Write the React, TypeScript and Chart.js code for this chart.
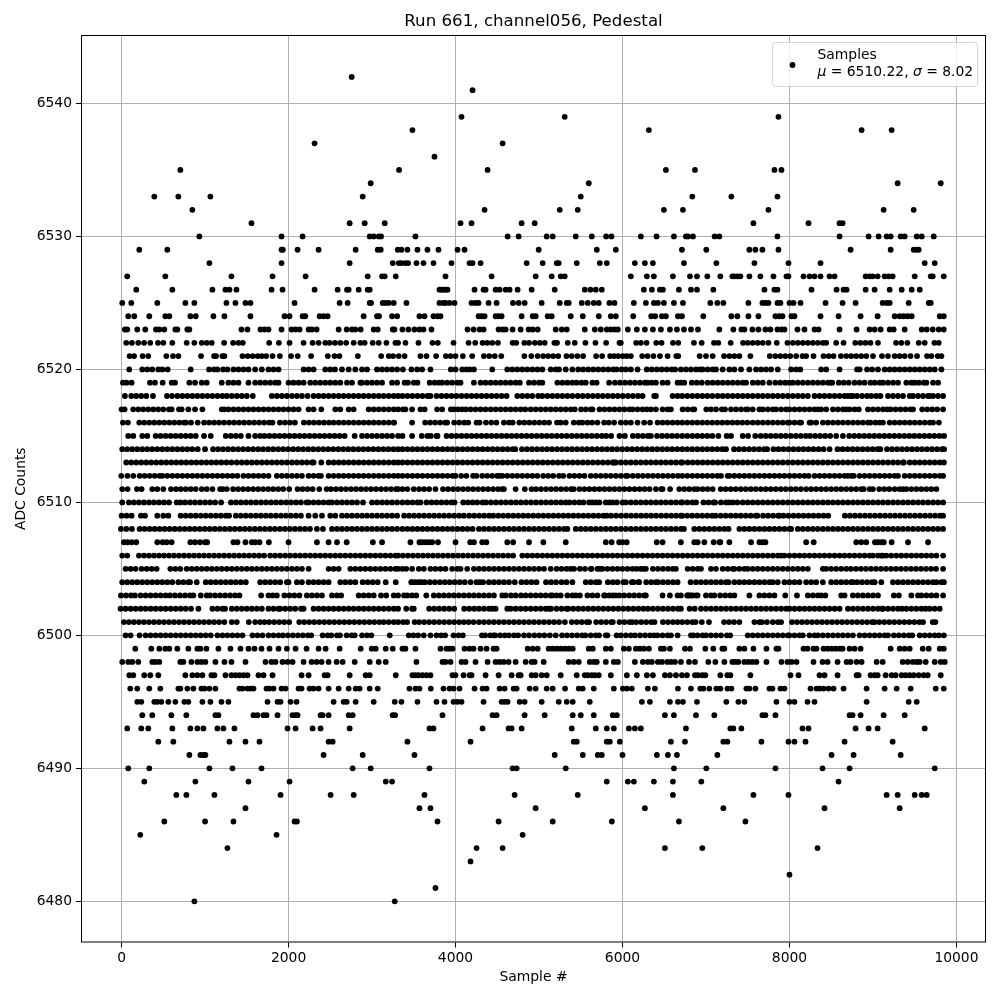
import React, { useEffect, useRef } from "react";
import { Chart, registerables } from "chart.js";

Chart.register(...registerables);

const titleText = "Run 661, channel056, Pedestal";
const xAxisLabel = "Sample #";
const yAxisLabel = "ADC Counts";
const xTickValues = [0, 2000, 4000, 6000, 8000, 10000];
const yTickValues = [6480, 6490, 6500, 6510, 6520, 6530, 6540];
const legendFirstLine = "Samples";
const mean = "6510.22";
const sigma = "8.02";

const s6480 = [872, 3272];
const s6481 = [3760];
const s6482 = [8000];
const s6483 = [4180];
const s6484 = [1268, 4252, 4564, 6508, 6956, 8336];
const s6485 = [224, 1856, 4804];
const s6486 = [512, 1000, 1340, 2072, 2100, 3784, 4516, 5164, 5872, 6676, 7472];
const s6487 = [1484, 3568, 3700, 4960, 6268, 7208, 8420, 9320];
const s6488 = [656, 776, 1112, 1904, 2504, 2780, 3628, 4708, 5464, 6604, 7568, 7988, 9164, 9296, 9500, 9584, 9644];
const s6489 = [272, 884, 1520, 2012, 3164, 3240, 5812, 6064, 6136, 6376, 6604, 6944, 8588];
const s6490 = [80, 332, 1052, 1328, 1676, 2768, 2984, 3688, 4684, 4732, 5320, 6616, 7004, 7832, 8396, 8720, 9740];
const s6491 = [812, 944, 980, 1004, 2420, 2888, 3508, 5188, 5524, 5704, 5752, 6000, 6412, 6544, 6652, 7136, 8504, 8768, 9332];
const s6492 = [440, 620, 1292, 1484, 1652, 2480, 2528, 3424, 4180, 5416, 5452, 5812, 5848, 5968, 6580, 6748, 7208, 7256, 7664, 7988, 8060, 8192, 8660, 9236];
const s6493 = [68, 236, 320, 608, 824, 908, 980, 1148, 1220, 1352, 1988, 2084, 2288, 2384, 2732, 3688, 3736, 4324, 4636, 4672, 4792, 5392, 5680, 5812, 5896, 6076, 6148, 6220, 6760, 7292, 7328, 7424, 8156, 8228, 8792, 8948, 9056, 9620];
const s6494 = [248, 368, 596, 776, 1124, 1160, 1580, 1628, 1700, 1736, 1868, 2048, 2084, 2108, 2384, 2408, 2480, 2720, 2768, 3248, 3276, 3844, 4444, 4492, 4828, 5068, 5404, 5500, 5656, 5884, 5932, 6508, 6616, 6880, 7100, 7676, 7712, 7832, 8720, 8756, 8852, 9128, 9380];
const s6495 = [188, 236, 392, 428, 476, 560, 644, 752, 800, 968, 1064, 1196, 1280, 1748, 1868, 1904, 2024, 2096, 2540, 2660, 2696, 2804, 3020, 3272, 3352, 3544, 3772, 3868, 3976, 4024, 4072, 4336, 4552, 4588, 4624, 4768, 4828, 5032, 5236, 5332, 5404, 5608, 6232, 6328, 6568, 6664, 6724, 6892, 7244, 7388, 7460, 7844, 8000, 8060, 8216, 8300, 8924, 9428, 9524];
const s6496 = [104, 188, 332, 464, 680, 704, 788, 860, 956, 992, 1052, 1124, 1412, 1448, 1508, 1544, 1580, 1736, 1772, 1820, 1916, 1964, 2120, 2156, 2252, 2300, 2360, 2480, 2600, 2720, 2804, 2852, 2972, 3068, 3448, 3520, 3568, 3704, 3856, 3928, 3976, 4048, 4228, 4324, 4372, 4528, 4588, 4696, 4732, 4888, 4960, 5092, 5164, 5312, 5476, 5524, 5656, 5896, 6004, 6052, 6112, 6304, 6388, 6664, 6820, 6932, 6968, 7040, 7124, 7172, 7256, 7304, 7484, 7520, 7592, 7760, 7796, 7892, 7940, 8252, 8324, 8360, 8408, 8468, 8528, 8648, 8924, 9140, 9284, 9452, 9752, 9848];
const s6497 = [92, 140, 272, 344, 440, 764, 848, 908, 968, 1076, 1112, 1244, 1316, 1364, 1412, 1460, 1508, 1640, 1700, 1808, 2156, 2240, 2432, 2468, 2732, 2924, 2972, 3284, 3484, 3520, 3556, 3604, 3652, 3700, 3964, 4000, 4096, 4168, 4192, 4360, 4516, 4672, 4756, 4780, 4912, 4960, 5032, 5092, 5260, 5452, 5548, 5584, 5632, 5668, 5716, 5860, 6052, 6172, 6292, 6364, 6508, 6568, 6640, 6712, 6772, 6868, 6904, 6956, 6992, 7172, 7256, 7292, 7532, 8012, 8108, 8360, 8420, 8576, 8804, 8828, 8972, 9020, 9056, 9152, 9224, 9272, 9344, 9392, 9440, 9488, 9548, 9608, 9656, 9812];
const s6498 = [8, 80, 128, 200, 368, 404, 452, 704, 740, 836, 908, 956, 1004, 1124, 1232, 1316, 1484, 1724, 1796, 1844, 1928, 1988, 2048, 2180, 2276, 2336, 2396, 2480, 2576, 2648, 2792, 2972, 3080, 3164, 3532, 3844, 3880, 3940, 4072, 4120, 4240, 4384, 4480, 4528, 4576, 4636, 4720, 4840, 4912, 4948, 5056, 5356, 5416, 5476, 5608, 5656, 5692, 5800, 5896, 5944, 6148, 6244, 6304, 6352, 6424, 6472, 6536, 6580, 6628, 6700, 6796, 6868, 7028, 7112, 7220, 7316, 7352, 7388, 7460, 7508, 7556, 7604, 7724, 7904, 7976, 8024, 8084, 8288, 8396, 8456, 8576, 8684, 8732, 8804, 8864, 9044, 9116, 9356, 9416, 9476, 9524, 9560, 9632, 9740, 9812, 9860];
const s6499 = [164, 356, 452, 524, 572, 668, 800, 908, 944, 1016, 1160, 1304, 1424, 1520, 1592, 1676, 1772, 1880, 1980, 2084, 2216, 2360, 2444, 2612, 2864, 2996, 3044, 3164, 3248, 3364, 3400, 3520, 3820, 3892, 3928, 3964, 4108, 4168, 4216, 4300, 4372, 4456, 4492, 4864, 4924, 4984, 5116, 5164, 5212, 5260, 5308, 5356, 5404, 5596, 5644, 5800, 5860, 6016, 6076, 6160, 6208, 6256, 6316, 6460, 6496, 6568, 6748, 6808, 6992, 7088, 7196, 7220, 7400, 7460, 7568, 7724, 7844, 7868, 8168, 8216, 8288, 8324, 8408, 8456, 8504, 8552, 8600, 8636, 8720, 8780, 8852, 9212, 9320, 9380, 9440, 9596, 9668, 9800, 9848];
const s6500 = [48, 108, 216, 288, 348, 408, 468, 528, 588, 648, 708, 768, 828, 888, 948, 1008, 1068, 1148, 1208, 1268, 1328, 1388, 1448, 1568, 1628, 1688, 1760, 1820, 1880, 1932, 1992, 2052, 2112, 2172, 2232, 2272, 2408, 2468, 2512, 2580, 2616, 2696, 2756, 2792, 2880, 2940, 2992, 3212, 3440, 3496, 3552, 3620, 3700, 3772, 3828, 3876, 3976, 4036, 4088, 4316, 4356, 4416, 4456, 4476, 4536, 4590, 4640, 4700, 4750, 4820, 4880, 4944, 5004, 5064, 5130, 5200, 5276, 5336, 5396, 5456, 5516, 5556, 5620, 5680, 5720, 5800, 5820, 5930, 5980, 6040, 6100, 6150, 6210, 6270, 6330, 6380, 6420, 6480, 6540, 6580, 6660, 6820, 6850, 6900, 6960, 7000, 7060, 7120, 7180, 7250, 7290, 7500, 7560, 7620, 7680, 7740, 7800, 7860, 7920, 7980, 8000, 8060, 8120, 8160, 8240, 8300, 8340, 8400, 8460, 8520, 8580, 8640, 8700, 8760, 8840, 8900, 8960, 9020, 9080, 9140, 9180, 9250, 9310, 9370, 9430, 9470, 9560, 9620, 9680, 9740, 9790, 9850];
const s6501 = [28, 88, 148, 208, 268, 328, 388, 448, 508, 568, 628, 688, 748, 808, 868, 928, 988, 1048, 1108, 1168, 1232, 1320, 1380, 1524, 1600, 1660, 1712, 1768, 1828, 1888, 1948, 2008, 2128, 2188, 2248, 2308, 2368, 2428, 2488, 2548, 2608, 2668, 2728, 2788, 2848, 2908, 2968, 3028, 3088, 3140, 3200, 3260, 3312, 3372, 3420, 3510, 3564, 3624, 3684, 3744, 3804, 3864, 3924, 3984, 4044, 4100, 4156, 4216, 4280, 4340, 4400, 4460, 4520, 4580, 4640, 4700, 4760, 4820, 4880, 4940, 5000, 5060, 5120, 5180, 5240, 5310, 5392, 5452, 5512, 5572, 5600, 5684, 5744, 5804, 5864, 5884, 5964, 6024, 6084, 6116, 6164, 6224, 6284, 6344, 6384, 6484, 6544, 6604, 6660, 6716, 6776, 6836, 6876, 6950, 7036, 7216, 7276, 7336, 7400, 7580, 7640, 7670, 7730, 7800, 7860, 7900, 8030, 8090, 8150, 8210, 8270, 8330, 8390, 8450, 8510, 8570, 8630, 8690, 8750, 8810, 8870, 8930, 8990, 9020, 9076, 9136, 9196, 9256, 9316, 9376, 9436, 9496, 9556, 9600, 9716, 9748];
const s6502 = [-12, 48, 108, 168, 228, 288, 348, 408, 468, 528, 588, 648, 708, 768, 832, 920, 1088, 1148, 1208, 1240, 1320, 1380, 1440, 1500, 1560, 1620, 1680, 1760, 1820, 1880, 1900, 1960, 2020, 2080, 2150, 2180, 2300, 2360, 2420, 2480, 2540, 2600, 2660, 2720, 2780, 2840, 2900, 2960, 3020, 3080, 3140, 3200, 3260, 3312, 3410, 3480, 3500, 3684, 3744, 3804, 3864, 3924, 3984, 4104, 4164, 4224, 4280, 4340, 4400, 4440, 4480, 4620, 4660, 4720, 4780, 4840, 4900, 4960, 5020, 5080, 5120, 5144, 5210, 5270, 5330, 5350, 5410, 5470, 5530, 5590, 5650, 5710, 5770, 5830, 5890, 5950, 6010, 6070, 6130, 6190, 6250, 6304, 6364, 6424, 6484, 6544, 6604, 6664, 6700, 6804, 6864, 6940, 7000, 7060, 7120, 7180, 7240, 7300, 7360, 7420, 7480, 7540, 7600, 7660, 7720, 7780, 7840, 7900, 7960, 8000, 8060, 8120, 8180, 8240, 8300, 8360, 8420, 8480, 8540, 8600, 8700, 8760, 8820, 8880, 8940, 9000, 9060, 9110, 9120, 9180, 9240, 9300, 9350, 9400, 9460, 9520, 9580, 9630, 9680, 9740, 9800];
const s6503 = [-8, 52, 112, 160, 228, 288, 348, 408, 468, 528, 580, 640, 700, 760, 820, 860, 948, 1020, 1060, 1120, 1180, 1240, 1300, 1360, 1412, 1672, 1760, 1810, 1860, 1950, 2010, 2070, 2130, 2220, 2280, 2340, 2400, 2520, 2580, 2630, 2840, 2900, 2960, 3020, 3108, 3170, 3260, 3312, 3384, 3424, 3480, 3530, 3650, 3740, 3800, 3860, 3920, 3980, 4040, 4100, 4160, 4220, 4280, 4340, 4400, 4460, 4560, 4600, 4664, 4720, 4784, 4840, 4900, 4960, 5020, 5080, 5140, 5160, 5210, 5260, 5340, 5400, 5440, 5490, 5580, 5640, 5700, 5790, 5780, 5840, 5884, 5920, 5964, 6020, 6080, 6140, 6200, 6260, 6280, 6480, 6568, 6660, 6700, 6780, 6800, 6820, 6880, 6776, 6840, 6900, 7000, 7060, 7100, 7170, 7230, 7290, 7340, 7520, 7640, 7700, 7760, 7820, 7950, 8090, 8220, 8280, 8340, 8380, 8430, 8620, 8660, 8760, 8820, 8880, 8940, 9000, 9060, 9250, 9310, 9460, 9540, 9580, 9640, 9700, 9760, 9840];
const s6504 = [8, 68, 128, 188, 248, 308, 368, 428, 488, 548, 608, 680, 740, 800, 820, 900, 1008, 1068, 1128, 1188, 1248, 1308, 1368, 1428, 1488, 1660, 1720, 1780, 1840, 1900, 1980, 2000, 2100, 2160, 2240, 2300, 2360, 2420, 2480, 2620, 2680, 2740, 2800, 2888, 2948, 3008, 3068, 3164, 3284, 3480, 3470, 3520, 3560, 3590, 3632, 3692, 3752, 3812, 3872, 3930, 3990, 4050, 4110, 4180, 4250, 4290, 4330, 4400, 4460, 4520, 4580, 4640, 4710, 4790, 4850, 4910, 4970, 5084, 5144, 5204, 5270, 5330, 5400, 5560, 5620, 5680, 5720, 5824, 5884, 5940, 6010, 6040, 6112, 6130, 6190, 6200, 6284, 6344, 6400, 6424, 6484, 6544, 6604, 6660, 6816, 6880, 6940, 7000, 7060, 7120, 7180, 7240, 7270, 7340, 7400, 7460, 7520, 7580, 7640, 7700, 7760, 7800, 7860, 7940, 8000, 8060, 8120, 8200, 8260, 8320, 8400, 8500, 8560, 8620, 8680, 8740, 8760, 8810, 8870, 8930, 8990, 9020, 9100, 9240, 9300, 9360, 9420, 9480, 9540, 9600, 9660, 9720, 9760, 9820, 9850];
const s6505 = [48, 108, 168, 240, 300, 360, 420, 584, 644, 704, 780, 840, 900, 960, 1020, 1080, 1140, 1200, 1260, 1320, 1380, 1440, 1500, 1560, 1620, 1680, 1740, 1800, 1860, 1920, 1980, 2040, 2100, 2160, 2240, 2480, 2540, 2600, 2740, 2800, 2860, 2920, 2980, 3040, 3100, 3160, 3220, 3280, 3312, 3364, 3410, 3480, 3560, 3620, 3700, 3760, 3820, 3880, 3960, 4020, 4060, 4140, 4220, 4280, 4340, 4400, 4460, 4520, 4580, 4640, 4700, 4760, 4820, 4880, 4940, 5000, 5060, 5140, 5210, 5270, 5330, 5380, 5420, 5490, 5550, 5620, 5630, 5700, 5730, 5760, 5820, 5880, 5940, 6000, 6060, 6120, 6170, 6220, 6250, 6280, 6364, 6424, 6484, 6544, 6600, 6640, 6780, 6840, 6900, 6940, 7060, 7120, 7200, 7260, 7320, 7340, 7400, 7460, 7500, 7560, 7620, 7680, 7740, 7800, 7860, 7920, 7980, 8040, 8100, 8160, 8220, 8400, 8440, 8500, 8560, 8620, 8680, 8736, 8796, 8856, 8916, 8976, 9036, 9096, 9156, 9216, 9276, 9336, 9396, 9456, 9516, 9576, 9636, 9696, 9756, 9840];
const s6506 = [8, 68, 208, 268, 328, 388, 448, 508, 568, 628, 688, 748, 808, 868, 928, 988, 1048, 1108, 1168, 1228, 1288, 1348, 1408, 1468, 1528, 1588, 1648, 1708, 1780, 1840, 1900, 1960, 2020, 2080, 2140, 2200, 2260, 2320, 2380, 2440, 2500, 2560, 2620, 2680, 2740, 2800, 2860, 2920, 2980, 3040, 3100, 3160, 3220, 3280, 3312, 3370, 3430, 3490, 3550, 3610, 3670, 3730, 3790, 3850, 3910, 3970, 4030, 4090, 4150, 4210, 4270, 4330, 4390, 4450, 4510, 4570, 4632, 4690, 4800, 4860, 4920, 4980, 5040, 5100, 5160, 5220, 5280, 5340, 5400, 5460, 5520, 5580, 5640, 5700, 5760, 5820, 5880, 5940, 6000, 6060, 6120, 6180, 6240, 6300, 6360, 6420, 6480, 6540, 6600, 6660, 6720, 6780, 6840, 6900, 6960, 7020, 7080, 7140, 7200, 7260, 7320, 7380, 7440, 7500, 7560, 7620, 7680, 7740, 7800, 7860, 7900, 7940, 8000, 8060, 8120, 8180, 8240, 8300, 8360, 8420, 8480, 8540, 8600, 8660, 8720, 8780, 8840, 8900, 8960, 9000, 9060, 9100, 9120, 9160, 9220, 9280, 9340, 9400, 9460, 9520, 9580, 9640, 9700, 9760, 9840];
const s6507 = [28, 70, 120, 176, 428, 492, 540, 600, 824, 880, 940, 1000, 1024, 1340, 1388, 1484, 1560, 1600, 1652, 1764, 2000, 2340, 2480, 2580, 2696, 3010, 3120, 3460, 3568, 3600, 3640, 3680, 3720, 3790, 4000, 4176, 4220, 4320, 4370, 4620, 4690, 4880, 5052, 5320, 5800, 5870, 5960, 6000, 6050, 6410, 6480, 6700, 6860, 6900, 6980, 7092, 7160, 7172, 7280, 7540, 7640, 7680, 7712, 8200, 8290, 8800, 8860, 8920, 9024, 9060, 9100, 9130, 9224, 9420, 9660];
const s6508 = [-8, 56, 124, 216, 276, 336, 396, 456, 516, 576, 636, 696, 756, 816, 876, 936, 996, 1056, 1116, 1176, 1236, 1296, 1356, 1416, 1476, 1536, 1596, 1656, 1716, 1776, 1836, 1896, 1956, 2016, 2076, 2136, 2196, 2256, 2340, 2412, 2520, 2580, 2640, 2700, 2760, 2820, 2880, 2940, 3000, 3060, 3120, 3180, 3240, 3300, 3364, 3424, 3484, 3544, 3604, 3664, 3724, 3784, 3844, 3904, 3964, 4024, 4084, 4144, 4204, 4280, 4340, 4400, 4460, 4520, 4580, 4640, 4700, 4760, 4820, 4880, 4940, 5000, 5060, 5120, 5180, 5240, 5300, 5340, 5440, 5500, 5560, 5620, 5680, 5740, 5800, 5860, 5920, 5980, 6040, 6100, 6160, 6220, 6280, 6340, 6400, 6460, 6520, 6580, 6640, 6700, 6736, 6860, 6920, 6980, 7040, 7100, 7160, 7220, 7270, 7400, 7460, 7520, 7580, 7640, 7700, 7760, 7820, 7880, 7940, 8000, 8020, 8100, 8160, 8220, 8280, 8340, 8400, 8460, 8520, 8580, 8640, 8700, 8760, 8820, 8880, 8940, 9000, 9060, 9120, 9180, 9240, 9300, 9360, 9420, 9480, 9540, 9600, 9660, 9720, 9780, 9840];
const s6509 = [0, 60, 120, 232, 280, 428, 500, 560, 708, 768, 828, 888, 948, 1008, 1068, 1128, 1188, 1248, 1288, 1368, 1428, 1488, 1548, 1608, 1668, 1728, 1788, 1848, 1908, 1968, 2028, 2088, 2148, 2240, 2320, 2400, 2500, 2560, 2640, 2700, 2760, 2820, 2880, 2940, 3000, 3060, 3120, 3180, 3240, 3300, 3384, 3444, 3504, 3564, 3624, 3684, 3744, 3804, 3864, 3924, 3984, 4044, 4100, 4164, 4224, 4284, 4344, 4404, 4452, 4512, 4572, 4632, 4692, 4752, 4812, 4872, 4932, 4992, 5052, 5112, 5172, 5232, 5292, 5352, 5412, 5472, 5532, 5592, 5652, 5712, 5772, 5812, 5864, 5924, 5984, 6044, 6104, 6164, 6224, 6284, 6344, 6404, 6464, 6524, 6584, 6644, 6700, 6716, 6776, 6836, 6896, 6956, 7016, 7076, 7116, 7176, 7236, 7296, 7356, 7416, 7476, 7536, 7596, 7616, 7684, 7744, 7804, 7864, 7880, 7928, 7988, 8048, 8108, 8168, 8228, 8288, 8348, 8408, 8464, 8664, 8724, 8784, 8844, 8904, 8964, 9024, 9084, 9144, 9204, 9264, 9324, 9384, 9444, 9504, 9564, 9624, 9684, 9744, 9804, 9840];
const s6510 = [8, 88, 148, 208, 268, 328, 388, 448, 508, 568, 660, 704, 760, 820, 880, 940, 1000, 1060, 1120, 1192, 1310, 1370, 1430, 1490, 1550, 1610, 1670, 1730, 1790, 1850, 1910, 1970, 2030, 2090, 2148, 2216, 2240, 2300, 2360, 2420, 2480, 2520, 2580, 2640, 2700, 2760, 2820, 2892, 3000, 3060, 3120, 3180, 3240, 3300, 3364, 3424, 3484, 3544, 3580, 3652, 3712, 3772, 3832, 3892, 3952, 3988, 4092, 4148, 4204, 4260, 4324, 4364, 4424, 4484, 4544, 4604, 4664, 4724, 4784, 4844, 4904, 4964, 5024, 5084, 5144, 5204, 5264, 5320, 5364, 5424, 5484, 5532, 5600, 5640, 5680, 5724, 5800, 5844, 5880, 5930, 6000, 6040, 6100, 6160, 6220, 6280, 6340, 6400, 6460, 6520, 6580, 6640, 6700, 6716, 6776, 6836, 6880, 6970, 7030, 7090, 7110, 7180, 7240, 7276, 7320, 7376, 7440, 7500, 7560, 7620, 7680, 7740, 7800, 7860, 7920, 7980, 8040, 8100, 8160, 8220, 8280, 8340, 8400, 8460, 8520, 8580, 8640, 8700, 8760, 8820, 8880, 8940, 9000, 9060, 9120, 9180, 9240, 9300, 9360, 9420, 9480, 9540, 9600, 9660, 9720, 9780, 9840];
const s6511 = [8, 72, 184, 240, 368, 428, 500, 592, 652, 708, 768, 828, 888, 960, 1020, 1088, 1180, 1210, 1260, 1336, 1396, 1456, 1516, 1576, 1636, 1696, 1756, 1816, 1876, 1936, 2008, 2108, 2168, 2228, 2288, 2368, 2456, 2508, 2568, 2628, 2688, 2748, 2808, 2868, 2928, 2988, 3048, 3108, 3168, 3228, 3288, 3312, 3364, 3424, 3500, 3564, 3624, 3684, 3760, 3850, 3910, 3970, 4030, 4090, 4150, 4210, 4270, 4330, 4390, 4450, 4510, 4560, 4580, 4720, 4830, 4910, 4964, 5024, 5084, 5144, 5204, 5264, 5324, 5384, 5416, 5484, 5544, 5604, 5664, 5724, 5784, 5844, 5904, 5964, 6024, 6084, 6144, 6204, 6264, 6324, 6400, 6464, 6480, 6570, 6680, 6740, 6800, 6860, 6900, 6960, 7020, 7080, 7176, 7236, 7296, 7356, 7416, 7476, 7536, 7596, 7656, 7716, 7776, 7836, 7896, 7956, 8016, 8076, 8136, 8200, 8260, 8320, 8380, 8440, 8500, 8560, 8620, 8680, 8740, 8800, 8860, 8890, 8960, 9000, 9076, 9136, 9196, 9260, 9320, 9360, 9400, 9460, 9520, 9580, 9640, 9700, 9760];
const s6512 = [-4, 70, 140, 216, 276, 336, 396, 456, 488, 548, 608, 668, 728, 788, 848, 908, 968, 1028, 1088, 1148, 1208, 1268, 1328, 1388, 1460, 1520, 1580, 1640, 1700, 1760, 1860, 1920, 1980, 2040, 2100, 2160, 2240, 2300, 2360, 2388, 2480, 2540, 2600, 2660, 2720, 2780, 2840, 2900, 2960, 3020, 3080, 3140, 3200, 3260, 3312, 3364, 3424, 3484, 3544, 3604, 3664, 3724, 3784, 3844, 3904, 3964, 4000, 4068, 4130, 4210, 4252, 4320, 4380, 4440, 4500, 4524, 4560, 4620, 4680, 4740, 4800, 4860, 4920, 4980, 5050, 5110, 5170, 5240, 5290, 5364, 5424, 5484, 5544, 5620, 5680, 5740, 5800, 5860, 5920, 5980, 6040, 6060, 6124, 6184, 6244, 6304, 6364, 6424, 6484, 6544, 6604, 6664, 6716, 6776, 6836, 6896, 6956, 7016, 7076, 7136, 7180, 7260, 7280, 7340, 7400, 7460, 7520, 7580, 7640, 7700, 7760, 7820, 7880, 7940, 8000, 8060, 8120, 8180, 8230, 8300, 8360, 8420, 8480, 8540, 8600, 8660, 8700, 8740, 8770, 8840, 8900, 8960, 9020, 9080, 9140, 9200, 9260, 9300, 9380, 9440, 9500, 9560, 9620, 9680, 9740, 9800, 9840];
const s6513 = [56, 116, 176, 236, 296, 356, 416, 476, 536, 596, 656, 716, 776, 836, 896, 956, 1016, 1076, 1136, 1196, 1256, 1316, 1380, 1440, 1500, 1560, 1620, 1680, 1740, 1800, 1860, 1920, 1980, 2040, 2100, 2160, 2220, 2280, 2300, 2392, 2480, 2540, 2600, 2660, 2720, 2780, 2840, 2900, 2960, 3020, 3080, 3140, 3200, 3260, 3312, 3364, 3424, 3484, 3544, 3604, 3664, 3724, 3784, 3844, 3904, 3964, 4024, 4084, 4144, 4204, 4264, 4324, 4384, 4444, 4504, 4564, 4624, 4684, 4744, 4804, 4864, 4924, 4984, 5044, 5104, 5164, 5224, 5284, 5344, 5404, 5464, 5524, 5584, 5644, 5704, 5764, 5824, 5884, 5900, 5920, 5980, 6040, 6100, 6160, 6220, 6280, 6340, 6400, 6460, 6520, 6580, 6640, 6700, 6716, 6780, 6840, 6900, 6960, 7020, 7080, 7140, 7200, 7260, 7320, 7380, 7440, 7500, 7560, 7620, 7680, 7740, 7800, 7860, 7920, 7980, 8040, 8100, 8160, 8220, 8280, 8340, 8400, 8460, 8520, 8580, 8640, 8700, 8760, 8820, 8880, 8940, 9000, 9060, 9120, 9180, 9240, 9300, 9360, 9370, 9440, 9500, 9560, 9620, 9680, 9740, 9800, 9850];
const s6514 = [8, 68, 128, 188, 248, 308, 368, 428, 488, 548, 608, 668, 728, 788, 848, 912, 1000, 1096, 1156, 1216, 1276, 1336, 1396, 1456, 1516, 1576, 1636, 1696, 1756, 1816, 1876, 1936, 1996, 2056, 2116, 2176, 2236, 2296, 2356, 2416, 2476, 2536, 2596, 2656, 2716, 2776, 2836, 2896, 2956, 3016, 3076, 3136, 3196, 3256, 3312, 3364, 3424, 3484, 3544, 3604, 3664, 3724, 3784, 3844, 3904, 3964, 4024, 4084, 4144, 4204, 4264, 4324, 4384, 4444, 4504, 4564, 4624, 4684, 4716, 4796, 4856, 4916, 4976, 5036, 5096, 5156, 5216, 5276, 5336, 5396, 5456, 5516, 5576, 5636, 5696, 5756, 5816, 5876, 5936, 5996, 6056, 6116, 6176, 6236, 6296, 6356, 6416, 6476, 6536, 6596, 6656, 6716, 6776, 6836, 6896, 6956, 7016, 7076, 7136, 7196, 7240, 7336, 7396, 7456, 7516, 7576, 7636, 7696, 7732, 7808, 7868, 7928, 7988, 8048, 8108, 8168, 8228, 8288, 8348, 8408, 8480, 8576, 8636, 8696, 8756, 8816, 8876, 8936, 8996, 9056, 9088, 9168, 9228, 9288, 9348, 9408, 9468, 9528, 9588, 9648, 9708, 9768, 9828, 9852];
const s6515 = [80, 140, 248, 308, 408, 468, 528, 588, 648, 708, 768, 828, 888, 988, 1068, 1248, 1308, 1368, 1428, 1520, 1600, 1660, 1712, 1772, 1832, 1892, 1952, 2012, 2072, 2132, 2192, 2252, 2312, 2372, 2432, 2492, 2552, 2612, 2672, 2792, 2880, 2940, 3000, 3060, 3120, 3180, 3240, 3312, 3364, 3480, 3596, 3664, 3704, 3772, 3784, 3892, 3952, 4012, 4072, 4132, 4192, 4252, 4312, 4372, 4432, 4492, 4552, 4612, 4672, 4732, 4792, 4852, 4912, 4972, 5032, 5092, 5152, 5212, 5272, 5332, 5392, 5452, 5512, 5572, 5632, 5692, 5752, 5804, 5864, 5964, 6028, 6124, 6184, 6244, 6304, 6340, 6414, 6474, 6534, 6594, 6654, 6716, 6776, 6836, 6896, 6956, 7016, 7076, 7148, 7248, 7300, 7440, 7504, 7590, 7656, 7716, 7776, 7836, 7896, 7956, 8016, 8076, 8136, 8196, 8248, 8308, 8368, 8428, 8488, 8560, 8640, 8716, 8776, 8836, 8896, 8956, 9016, 9076, 9136, 9196, 9256, 9316, 9376, 9436, 9496, 9556, 9616, 9676, 9736, 9796, 9852];
const s6516 = [16, 76, 212, 272, 332, 392, 452, 512, 572, 632, 692, 748, 772, 832, 912, 988, 1048, 1108, 1168, 1228, 1288, 1348, 1408, 1468, 1528, 1588, 1648, 1708, 1768, 1808, 1896, 1956, 2016, 2076, 2184, 2244, 2304, 2364, 2424, 2484, 2540, 2600, 2660, 2720, 2780, 2840, 2900, 2960, 3020, 3080, 3140, 3200, 3260, 3264, 3480, 3636, 3696, 3756, 3816, 3876, 3900, 3984, 4044, 4104, 4152, 4252, 4288, 4364, 4428, 4490, 4580, 4640, 4684, 4764, 4824, 4884, 4944, 5004, 5064, 5120, 5216, 5260, 5320, 5416, 5476, 5520, 5580, 5636, 5700, 5780, 5836, 5900, 5980, 6040, 6100, 6180, 6260, 6330, 6420, 6480, 6540, 6600, 6660, 6716, 6776, 6836, 6896, 6956, 7016, 7076, 7136, 7196, 7256, 7316, 7376, 7436, 7496, 7560, 7620, 7680, 7740, 7800, 7860, 7920, 7980, 8000, 8060, 8120, 8140, 8240, 8260, 8320, 8400, 8460, 8520, 8580, 8640, 8700, 8760, 8820, 8880, 8940, 8970, 9030, 9080, 9120, 9200, 9260, 9320, 9380, 9440, 9500, 9560, 9620, 9680, 9720, 9790];
const s6517 = [0, 36, 140, 200, 260, 320, 380, 440, 500, 568, 600, 688, 720, 800, 880, 968, 1200, 1232, 1280, 1340, 1400, 1460, 1520, 1580, 1640, 1700, 1760, 1820, 1880, 1940, 2000, 2060, 2120, 2240, 2300, 2392, 2560, 2620, 2720, 2780, 2960, 3020, 3080, 3140, 3200, 3260, 3312, 3370, 3400, 3480, 3580, 3630, 3780, 3840, 3944, 3980, 4030, 4080, 4124, 4180, 4240, 4300, 4360, 4420, 4480, 4540, 4600, 4660, 4720, 4780, 4836, 4900, 4960, 5020, 5080, 5140, 5200, 5260, 5320, 5380, 5428, 5504, 5560, 5620, 5640, 5724, 5784, 5844, 5904, 5964, 6024, 6084, 6120, 6180, 6240, 6290, 6340, 6400, 6480, 6540, 6580, 6720, 6780, 6840, 6860, 7004, 7060, 7120, 7190, 7228, 7300, 7360, 7420, 7480, 7500, 7560, 7640, 7680, 7740, 7800, 7840, 7900, 7960, 8000, 8060, 8120, 8180, 8240, 8300, 8340, 8380, 8440, 8520, 8580, 8640, 8680, 8720, 8780, 8830, 8940, 9000, 9060, 9120, 9170, 9210, 9270, 9330, 9390, 9450, 9480, 9590, 9650, 9710, 9770, 9840];
const s6518 = [40, 116, 176, 236, 296, 376, 544, 604, 668, 728, 788, 848, 908, 968, 1028, 1088, 1148, 1208, 1260, 1320, 1380, 1440, 1500, 1572, 1800, 1860, 1920, 1980, 2040, 2100, 2160, 2228, 2300, 2360, 2420, 2480, 2540, 2600, 2660, 2720, 2780, 2840, 2900, 2960, 3020, 3080, 3140, 3200, 3260, 3312, 3364, 3424, 3484, 3544, 3604, 3664, 3700, 3772, 3832, 3892, 3952, 4012, 4072, 4132, 4192, 4252, 4312, 4372, 4432, 4492, 4552, 4612, 4740, 4800, 4860, 4920, 4990, 5040, 5100, 5160, 5220, 5280, 5340, 5400, 5464, 5524, 5584, 5644, 5704, 5764, 5824, 5884, 5944, 6004, 6064, 6124, 6184, 6240, 6380, 6400, 6600, 6660, 6716, 6776, 6836, 6896, 6956, 7016, 7076, 7140, 7200, 7260, 7320, 7380, 7440, 7500, 7560, 7620, 7680, 7740, 7800, 7860, 7920, 7980, 8040, 8100, 8160, 8220, 8300, 8360, 8420, 8480, 8540, 8600, 8660, 8700, 8740, 8760, 8810, 8870, 8930, 8980, 9040, 9090, 9180, 9240, 9300, 9360, 9440, 9480, 9540, 9600, 9660, 9680, 9720, 9780, 9840];
const s6519 = [16, 60, 120, 340, 400, 492, 600, 640, 812, 880, 960, 1020, 1200, 1280, 1340, 1400, 1520, 1600, 1660, 1720, 1780, 1840, 1880, 2000, 2060, 2120, 2180, 2260, 2320, 2380, 2440, 2500, 2560, 2620, 2700, 2760, 2860, 2880, 2940, 3000, 3060, 3120, 3240, 3300, 3390, 3430, 3500, 3544, 3690, 3750, 3800, 3840, 3900, 3960, 4020, 4060, 4220, 4300, 4360, 4420, 4480, 4540, 4600, 4660, 4720, 4770, 4880, 4940, 5000, 5040, 5220, 5280, 5340, 5400, 5450, 5510, 5560, 5640, 5690, 5840, 5910, 5970, 6030, 6090, 6150, 6210, 6270, 6300, 6350, 6400, 6480, 6540, 6660, 6700, 6740, 6830, 6890, 6950, 7020, 7080, 7140, 7200, 7260, 7320, 7380, 7440, 7480, 7560, 7620, 7680, 7760, 7830, 7890, 7950, 8000, 8040, 8100, 8160, 8220, 8280, 8340, 8400, 8460, 8490, 8512, 8590, 8650, 8710, 8780, 8840, 8900, 8970, 9020, 9080, 9120, 9180, 9240, 9300, 9400, 9460, 9500, 9550, 9610, 9640, 9720, 9780];
const s6520 = [92, 248, 308, 368, 440, 488, 552, 828, 1048, 1108, 1148, 1216, 1268, 1340, 1400, 1460, 1520, 1600, 1680, 1760, 1820, 1880, 2180, 2240, 2300, 2440, 2500, 2556, 2640, 2720, 2800, 2880, 2940, 3060, 3120, 3180, 3240, 3300, 3370, 3472, 3540, 3600, 3700, 3944, 4000, 4080, 4130, 4172, 4220, 4440, 4620, 4680, 4740, 4800, 4860, 4920, 4980, 5040, 5140, 5200, 5240, 5320, 5400, 5470, 5530, 5590, 5650, 5710, 5770, 5830, 5890, 5930, 5990, 6040, 6100, 6180, 6290, 6350, 6410, 6470, 6530, 6590, 6630, 6700, 6760, 6820, 6880, 6930, 6960, 7020, 7080, 7120, 7200, 7280, 7340, 7420, 7520, 7600, 7660, 7720, 7780, 7860, 8020, 8080, 8130, 8380, 8440, 8600, 8810, 8840, 8930, 8990, 9060, 9140, 9200, 9260, 9320, 9380, 9440, 9500, 9560, 9620, 9680, 9740, 9820];
const s6521 = [96, 150, 252, 320, 536, 616, 680, 952, 1108, 1132, 1208, 1232, 1448, 1510, 1570, 1630, 1680, 1732, 1808, 1896, 2030, 2110, 2270, 2470, 2550, 2610, 2830, 3110, 3200, 3252, 3320, 3390, 3580, 3652, 3768, 3884, 3940, 4000, 4088, 4200, 4340, 4404, 4470, 4548, 4824, 4908, 4984, 5050, 5110, 5170, 5230, 5328, 5392, 5460, 5528, 5684, 5756, 5852, 5900, 5948, 6004, 6050, 6100, 6236, 6300, 6370, 6448, 6540, 6644, 6668, 6924, 7000, 7080, 7216, 7280, 7340, 7400, 7532, 7764, 7830, 7890, 7950, 8010, 8080, 8156, 8200, 8288, 8408, 8470, 8528, 8616, 8680, 8740, 8800, 8860, 8920, 9000, 9108, 9180, 9260, 9320, 9380, 9450, 9528, 9648, 9700, 9776, 9820];
const s6522 = [56, 124, 200, 270, 344, 436, 500, 608, 780, 872, 960, 1020, 1080, 1228, 1336, 1400, 1452, 1768, 1884, 2012, 2180, 2288, 2360, 2440, 2492, 2556, 2620, 2690, 2780, 2860, 2912, 3008, 3080, 3172, 3280, 3312, 3400, 3556, 3724, 3788, 3976, 4156, 4236, 4324, 4380, 4440, 4508, 4684, 4728, 4824, 4880, 4950, 5010, 5068, 5184, 5216, 5344, 5428, 5556, 5676, 5804, 5964, 5980, 6164, 6220, 6288, 6404, 6468, 6604, 6668, 6856, 6948, 7096, 7148, 7296, 7444, 7500, 7560, 7620, 7680, 7748, 7848, 7976, 8040, 8100, 8160, 8220, 8280, 8340, 8400, 8440, 8560, 8648, 8788, 8850, 8910, 8970, 9060, 9276, 9340, 9412, 9548, 9620, 9736, 9788];
const s6523 = [40, 68, 188, 284, 412, 452, 512, 644, 668, 788, 812, 1436, 1508, 1664, 1712, 1760, 1916, 2036, 2084, 2132, 2240, 2280, 2336, 2600, 2696, 2760, 2800, 2864, 3020, 3068, 3248, 3268, 3364, 3436, 3508, 3568, 3616, 3712, 4144, 4216, 4288, 4336, 4516, 4564, 4600, 4684, 4780, 4876, 4924, 4984, 5200, 5272, 5332, 5548, 5668, 5740, 5812, 5860, 5904, 5944, 6064, 6172, 6268, 6364, 6460, 6568, 6652, 6736, 6820, 6904, 7160, 7328, 7424, 7460, 7556, 7628, 7712, 7772, 7856, 7904, 7940, 8096, 8180, 8300, 8348, 8600, 8804, 8960, 9020, 9092, 9200, 9248, 9380, 9584, 9644, 9716, 9788, 9848];
const s6524 = [80, 152, 332, 524, 572, 824, 888, 1100, 1232, 1544, 1952, 2012, 2168, 2200, 2372, 2420, 2468, 2900, 3060, 3084, 3240, 3300, 3568, 3628, 3736, 3784, 3820, 4276, 4312, 4348, 4480, 4516, 4552, 4792, 4924, 4960, 5104, 5152, 5380, 5524, 5716, 5860, 5920, 6128, 6344, 6392, 6472, 6520, 6664, 6712, 6968, 7304, 7376, 7508, 7628, 7832, 7880, 7916, 8024, 8060, 8372, 8588, 8852, 9056, 9260, 9320, 9368, 9416, 9464, 9800, 9848];
const s6525 = [8, 116, 428, 764, 872, 1256, 1364, 1484, 1544, 2072, 2612, 2708, 2972, 2988, 3128, 3160, 3200, 3260, 3412, 3808, 3856, 3880, 3928, 3988, 4192, 4240, 4276, 4396, 4492, 4688, 4756, 4828, 5032, 5248, 5332, 5356, 5512, 5584, 5656, 5716, 5844, 5904, 6136, 6280, 6376, 6424, 6496, 6616, 6724, 7052, 7136, 7208, 7508, 7676, 7712, 7748, 7856, 7892, 8000, 8048, 8132, 8432, 8636, 8792, 9116, 9164, 9200, 9428, 9668, 9692];
const s6526 = [176, 608, 1088, 1244, 1292, 1376, 1796, 1928, 2312, 2588, 2700, 2720, 2840, 2948, 2972, 3808, 3832, 3856, 3880, 3904, 4228, 4336, 4360, 4480, 4528, 4600, 4648, 4744, 4912, 5188, 5548, 5616, 5680, 5752, 6256, 6352, 6448, 6484, 6676, 6820, 6892, 7088, 7700, 7820, 7856, 8264, 8564, 8648, 8684, 8912, 9020, 9200, 9344, 9464, 9560];
const s6527 = [68, 524, 1316, 1808, 2204, 2948, 3120, 3152, 3284, 3880, 4432, 4960, 5152, 5260, 5308, 6100, 6292, 6376, 6604, 6808, 6892, 7016, 7172, 7316, 7340, 7376, 7412, 7520, 7652, 7808, 7964, 7988, 8168, 8240, 8300, 8372, 8480, 8540, 8912, 8960, 8996, 9056, 9140, 9188, 9236, 9500, 9692, 9716, 9848];
const s6528 = [1052, 1916, 2732, 3248, 3320, 3352, 3400, 3432, 3532, 3616, 3736, 3952, 4168, 4204, 4300, 4852, 5044, 5212, 5236, 5452, 5728, 5812, 6148, 6268, 6364, 6736, 7124, 7580, 7988, 8372, 9620, 9740];
const s6529 = [212, 548, 1916, 1932, 2108, 2360, 2804, 3068, 3104, 3308, 3352, 3424, 3544, 3664, 3796, 4024, 4108, 4996, 5692, 5920, 6712, 7004, 7520, 7592, 7676, 7868, 8732, 9212, 9488, 9524, 9548];
const s6530 = [932, 1916, 2168, 2972, 3020, 3080, 3108, 3520, 4624, 4756, 5092, 5164, 5440, 5632, 5804, 5868, 6220, 6408, 6616, 6760, 6784, 6844, 7104, 7160, 7856, 8600, 8948, 9068, 9164, 9212, 9332, 9380, 9524, 9584, 9728];
const s6531 = [1556, 2732, 2912, 3152, 4060, 4192, 4792, 4948, 7568, 8228, 8600, 8636];
const s6532 = [848, 4348, 5248, 5464, 6496, 6724, 7748, 9128, 9488];
const s6533 = [392, 680, 1064, 2888, 5500, 6836, 7304, 7856];
const s6534 = [2984, 5596, 9296, 9812];
const s6535 = [704, 3324, 4384, 6520, 6868, 7820, 7904];
const s6536 = [3748];
const s6537 = [2312, 4564];
const s6538 = [3484, 6316, 8864, 9224];
const s6539 = [4072, 5308, 7868];
const s6541 = [4204];
const s6542 = [2756];

const levelRows: [number, number[]][] = [
  [6480, s6480], [6481, s6481], [6482, s6482], [6483, s6483], [6484, s6484], [6485, s6485], [6486, s6486],
  [6487, s6487], [6488, s6488], [6489, s6489], [6490, s6490], [6491, s6491], [6492, s6492], [6493, s6493],
  [6494, s6494], [6495, s6495], [6496, s6496], [6497, s6497], [6498, s6498], [6499, s6499], [6500, s6500],
  [6501, s6501], [6502, s6502], [6503, s6503], [6504, s6504], [6505, s6505], [6506, s6506], [6507, s6507],
  [6508, s6508], [6509, s6509], [6510, s6510], [6511, s6511], [6512, s6512], [6513, s6513], [6514, s6514],
  [6515, s6515], [6516, s6516], [6517, s6517], [6518, s6518], [6519, s6519], [6520, s6520], [6521, s6521],
  [6522, s6522], [6523, s6523], [6524, s6524], [6525, s6525], [6526, s6526], [6527, s6527], [6528, s6528],
  [6529, s6529], [6530, s6530], [6531, s6531], [6532, s6532], [6533, s6533], [6534, s6534], [6535, s6535],
  [6536, s6536], [6537, s6537], [6538, s6538], [6539, s6539], [6541, s6541], [6542, s6542],
];

const FONT = '"DejaVu Sans", sans-serif';

const frameAndLegend = {
  id: "frameAndLegend",
  afterDatasetsDraw(chart: any) {
    const { ctx, chartArea: a } = chart;
    ctx.save();
    ctx.strokeStyle = "#000";
    ctx.lineWidth = 1;
    ctx.strokeRect(a.left + 0.5, a.top + 0.5, a.right - a.left - 1, a.bottom - a.top - 1);

    const bx = 772.5, by = 42.5, bw = 205, bh = 44;
    ctx.beginPath();
    ctx.roundRect(bx, by, bw, bh, 3);
    ctx.fillStyle = "rgba(255,255,255,0.8)";
    ctx.fill();
    ctx.strokeStyle = "rgba(204,204,204,0.8)";
    ctx.stroke();

    ctx.fillStyle = "#000";
    ctx.beginPath();
    ctx.arc(792.5, 65, 2.9, 0, Math.PI * 2);
    ctx.fill();

    ctx.textBaseline = "alphabetic";
    ctx.textAlign = "left";
    ctx.font = `13.89px ${FONT}`;
    ctx.fillText(legendFirstLine, 817.5, 59);
    const y = 76;
    let x = 817.5;
    const part = (t: string, italic: boolean) => {
      ctx.font = `${italic ? "italic " : ""}13.89px ${FONT}`;
      ctx.fillText(t, x, y);
      x += ctx.measureText(t).width;
    };
    part("μ", true);
    part(` = ${mean}, `, false);
    part("σ", true);
    part(` = ${sigma}`, false);
    ctx.restore();
  },
};

export default function App() {
  const ref = useRef<HTMLCanvasElement | null>(null);
  useEffect(() => {
    const points = levelRows.flatMap(([level, xs]) => xs.map((x) => ({ x, y: level })));
    const chart = new Chart(ref.current as HTMLCanvasElement, {
      type: "scatter",
      data: {
        datasets: [
          {
            label: legendFirstLine,
            data: points,
            backgroundColor: "#000",
            borderWidth: 0,
            pointRadius: 2.9,
            pointHoverRadius: 2.9,
          },
        ],
      },
      plugins: [frameAndLegend],
      options: {
        animation: false,
        responsive: false,
        events: [],
        layout: { padding: { left: 0, right: 14, top: 0, bottom: 0 } },
        plugins: {
          legend: { display: false },
          tooltip: { enabled: false },
          title: {
            display: true,
            fullSize: false,
            text: titleText,
            color: "#000",
            font: { family: FONT, size: 16.67, weight: "normal", lineHeight: 1.2 },
            padding: { top: 12, bottom: 3 },
          },
        },
        scales: {
          x: {
            type: "linear",
            min: -486,
            max: 10354,
            afterBuildTicks: (s: any) => {
              s.ticks = xTickValues.map((value) => ({ value }));
            },
            afterFit: (s: any) => {
              s.height = 57.5;
            },
            border: { display: false },
            grid: { color: "#b0b0b0", lineWidth: 1, tickColor: "#000", tickLength: 5 },
            ticks: {
              color: "#000",
              font: { family: FONT, size: 13.89 },
              maxRotation: 0,
              autoSkip: false,
              padding: 3,
              callback: (v: any) => String(v),
            },
            title: {
              display: true,
              text: xAxisLabel,
              color: "#000",
              font: { family: FONT, size: 13.89 },
              padding: { top: 0, bottom: 14 },
            },
          },
          y: {
            type: "linear",
            min: 6476.9,
            max: 6545.15,
            afterBuildTicks: (s: any) => {
              s.ticks = yTickValues.map((value) => ({ value }));
            },
            afterFit: (s: any) => {
              s.width = 81;
            },
            border: { display: false },
            grid: { color: "#b0b0b0", lineWidth: 1, tickColor: "#000", tickLength: 5 },
            ticks: {
              color: "#000",
              font: { family: FONT, size: 13.89 },
              autoSkip: false,
              padding: 4,
              callback: (v: any) => String(v),
            },
            title: {
              display: true,
              text: yAxisLabel,
              color: "#000",
              font: { family: FONT, size: 13.89 },
              padding: { top: 13, bottom: 0 },
            },
          },
        },
      },
    } as any);
    return () => chart.destroy();
  }, []);
  return (
    <div style={{ position: "absolute", left: 0, top: 0, width: 1000, height: 1000 }}>
      <canvas ref={ref} width={1000} height={1000} style={{ display: "block" }} />
    </div>
  );
}
